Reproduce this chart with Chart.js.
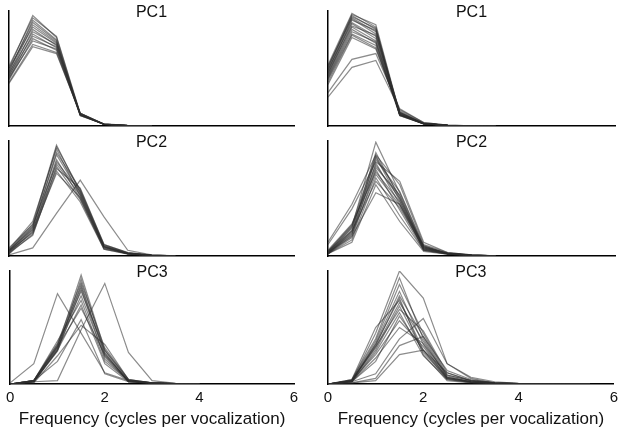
<!DOCTYPE html>
<html>
<head>
<meta charset="utf-8">
<script src="https://cdn.jsdelivr.net/npm/chart.js@4.4.1/dist/chart.umd.min.js"></script>
<style>
    body { margin: 0; background: #fff; }
    #wrap { position: relative; width: 624px; height: 429px; }
    #wrap canvas { position: absolute; }
</style>
</head>
<body>
<div id="wrap">
    <canvas id="c1L" width="312" height="130" style="left:0;top:0"></canvas>
    <canvas id="c1R" width="312" height="130" style="left:312px;top:0"></canvas>
    <canvas id="c2L" width="312" height="130" style="left:0;top:130px"></canvas>
    <canvas id="c2R" width="312" height="130" style="left:312px;top:130px"></canvas>
    <canvas id="c3L" width="312" height="169" style="left:0;top:260px"></canvas>
    <canvas id="c3R" width="312" height="169" style="left:312px;top:260px"></canvas>
</div>
<script>
// x positions of every curve (cycles per vocalization)
const freqs = [0, 0.5, 1, 1.5, 2, 2.5, 3, 3.5, 4, 4.5, 5, 5.5];
const xTicks = [0, 2, 4, 6];
const axisTitle = 'Frequency (cycles per vocalization)';
const panelNames = ['PC1', 'PC2', 'PC3'];

// relative power per curve (1 = top of the axis)
const pc1Left = [
    [0.50, 0.96, 0.77, 0.10, 0.015, 0.004, 0.001],
    [0.52, 0.94, 0.78, 0.11, 0.018, 0.005, 0.001],
    [0.47, 0.92, 0.75, 0.10, 0.014, 0.003, 0],
    [0.48, 0.90, 0.74, 0.09, 0.016, 0.004, 0.001],
    [0.45, 0.88, 0.73, 0.10, 0.015, 0.003, 0],
    [0.50, 0.86, 0.72, 0.11, 0.017, 0.004, 0.001],
    [0.43, 0.84, 0.70, 0.10, 0.013, 0.003, 0],
    [0.46, 0.82, 0.71, 0.09, 0.015, 0.004, 0.001],
    [0.41, 0.80, 0.68, 0.10, 0.016, 0.003, 0],
    [0.44, 0.78, 0.69, 0.11, 0.014, 0.004, 0.001],
    [0.40, 0.76, 0.66, 0.10, 0.015, 0.003, 0],
    [0.42, 0.74, 0.67, 0.09, 0.017, 0.004, 0.001],
    [0.38, 0.71, 0.64, 0.10, 0.014, 0.003, 0],
    [0.37, 0.69, 0.63, 0.11, 0.015, 0.004, 0.001]
];
const pc1Right = [
    [0.53, 0.98, 0.86, 0.10, 0.020, 0.006, 0.002, 0],
    [0.51, 0.97, 0.88, 0.11, 0.020, 0.005, 0.001, 0],
    [0.50, 0.96, 0.84, 0.09, 0.018, 0.006, 0.002, 0],
    [0.48, 0.95, 0.85, 0.10, 0.020, 0.005, 0.001, 0],
    [0.52, 0.94, 0.82, 0.12, 0.022, 0.006, 0.002, 0],
    [0.47, 0.93, 0.80, 0.10, 0.019, 0.005, 0.001, 0],
    [0.45, 0.92, 0.83, 0.09, 0.020, 0.006, 0.002, 0],
    [0.49, 0.90, 0.78, 0.11, 0.021, 0.005, 0.001, 0],
    [0.44, 0.89, 0.76, 0.10, 0.018, 0.004, 0.001, 0],
    [0.46, 0.87, 0.79, 0.12, 0.020, 0.006, 0.002, 0],
    [0.43, 0.86, 0.74, 0.10, 0.022, 0.005, 0.001, 0],
    [0.42, 0.84, 0.72, 0.09, 0.019, 0.005, 0.001, 0],
    [0.41, 0.82, 0.73, 0.11, 0.020, 0.006, 0.002, 0],
    [0.40, 0.80, 0.70, 0.10, 0.021, 0.005, 0.001, 0],
    [0.38, 0.79, 0.68, 0.12, 0.020, 0.004, 0.001, 0],
    [0.36, 0.77, 0.67, 0.13, 0.023, 0.006, 0.002, 0],
    [0.29, 0.58, 0.63, 0.15, 0.030, 0.008, 0.002, 0],
    [0.25, 0.51, 0.57, 0.14, 0.030, 0.007, 0.002, 0]
];
const pc2Left = [
    [0.05, 0.28, 0.965, 0.55, 0.08, 0.020, 0.006, 0.001],
    [0.04, 0.26, 0.95, 0.57, 0.09, 0.025, 0.006, 0.001],
    [0.06, 0.30, 0.93, 0.52, 0.07, 0.020, 0.005, 0.001],
    [0.03, 0.24, 0.90, 0.58, 0.10, 0.030, 0.008, 0.002],
    [0.05, 0.25, 0.88, 0.54, 0.08, 0.020, 0.005, 0.001],
    [0.02, 0.22, 0.84, 0.50, 0.06, 0.020, 0.005, 0.001],
    [0.04, 0.20, 0.82, 0.56, 0.09, 0.025, 0.007, 0.002],
    [0.07, 0.27, 0.80, 0.53, 0.08, 0.020, 0.005, 0.001],
    [0.03, 0.18, 0.78, 0.49, 0.07, 0.018, 0.004, 0.001],
    [0.05, 0.23, 0.76, 0.59, 0.10, 0.030, 0.008, 0.002],
    [0.02, 0.19, 0.74, 0.47, 0.06, 0.015, 0.004, 0.001],
    [0.04, 0.21, 0.72, 0.51, 0.08, 0.020, 0.006, 0.001],
    [0.01, 0.07, 0.37, 0.66, 0.34, 0.050, 0.010, 0.002]
];
const pc2Right = [
    [0.03, 0.25, 0.99, 0.55, 0.08, 0.020, 0.008, 0.002],
    [0.02, 0.22, 0.90, 0.50, 0.06, 0.020, 0.006, 0.001],
    [0.12, 0.45, 0.88, 0.62, 0.10, 0.030, 0.010, 0.002],
    [0.04, 0.27, 0.87, 0.52, 0.07, 0.025, 0.008, 0.002],
    [0.02, 0.20, 0.86, 0.48, 0.05, 0.020, 0.006, 0.001],
    [0.03, 0.24, 0.84, 0.56, 0.09, 0.020, 0.007, 0.001],
    [0.10, 0.41, 0.82, 0.65, 0.12, 0.030, 0.010, 0.002],
    [0.02, 0.18, 0.81, 0.45, 0.06, 0.020, 0.005, 0.001],
    [0.04, 0.26, 0.79, 0.50, 0.08, 0.025, 0.008, 0.002],
    [0.03, 0.21, 0.77, 0.53, 0.07, 0.020, 0.006, 0.001],
    [0.02, 0.16, 0.75, 0.40, 0.05, 0.015, 0.005, 0.001],
    [0.05, 0.28, 0.73, 0.47, 0.08, 0.020, 0.007, 0.001],
    [0.03, 0.19, 0.71, 0.44, 0.06, 0.020, 0.006, 0.001],
    [0.02, 0.14, 0.68, 0.35, 0.05, 0.015, 0.005, 0.001],
    [0.04, 0.22, 0.65, 0.42, 0.07, 0.020, 0.006, 0.001],
    [0.02, 0.12, 0.62, 0.30, 0.04, 0.015, 0.004, 0.001],
    [0.03, 0.17, 0.55, 0.45, 0.09, 0.020, 0.006, 0.001]
];
const pc3Left = [
    [0, 0.03, 0.33, 0.965, 0.30, 0.03, 0.010, 0.003, 0.001],
    [0, 0.02, 0.30, 0.93, 0.28, 0.02, 0.008, 0.002, 0],
    [0, 0.03, 0.36, 0.90, 0.32, 0.04, 0.010, 0.003, 0.001],
    [0, 0.02, 0.31, 0.88, 0.25, 0.03, 0.008, 0.002, 0],
    [0, 0.03, 0.34, 0.86, 0.27, 0.02, 0.010, 0.003, 0.001],
    [0, 0.02, 0.29, 0.84, 0.22, 0.03, 0.008, 0.002, 0],
    [0, 0.03, 0.35, 0.82, 0.30, 0.04, 0.010, 0.003, 0.001],
    [0, 0.02, 0.32, 0.78, 0.24, 0.02, 0.008, 0.002, 0],
    [0, 0.03, 0.38, 0.74, 0.20, 0.03, 0.010, 0.003, 0.001],
    [0, 0.02, 0.30, 0.70, 0.18, 0.02, 0.008, 0.002, 0],
    [0, 0.03, 0.33, 0.67, 0.26, 0.03, 0.010, 0.003, 0.001],
    [0.01, 0.18, 0.80, 0.45, 0.10, 0.03, 0.008, 0.002, 0],
    [0, 0.02, 0.03, 0.48, 0.89, 0.28, 0.030, 0.005, 0.001],
    [0, 0.03, 0.20, 0.57, 0.09, 0.02, 0.005, 0.001, 0],
    [0, 0.01, 0.25, 0.52, 0.35, 0.04, 0.010, 0.002, 0]
];
const pc3Right = [
    [0, 0.03, 0.45, 1.00, 0.76, 0.18, 0.05, 0.010, 0.004, 0.002, 0.001, 0.001],
    [0, 0.04, 0.40, 0.94, 0.40, 0.06, 0.02, 0.006, 0.002, 0.001, 0, 0],
    [0, 0.03, 0.38, 0.88, 0.45, 0.08, 0.03, 0.010, 0.003, 0.001, 0, 0],
    [0, 0.02, 0.36, 0.82, 0.35, 0.05, 0.02, 0.005, 0.002, 0.001, 0, 0],
    [0, 0.03, 0.34, 0.78, 0.42, 0.07, 0.02, 0.006, 0.002, 0.001, 0, 0],
    [0, 0.04, 0.50, 0.74, 0.30, 0.04, 0.015, 0.005, 0.002, 0.001, 0, 0],
    [0, 0.03, 0.32, 0.72, 0.38, 0.06, 0.02, 0.006, 0.002, 0.001, 0, 0],
    [0, 0.02, 0.30, 0.69, 0.28, 0.05, 0.015, 0.005, 0.002, 0.001, 0, 0],
    [0, 0.03, 0.33, 0.66, 0.47, 0.10, 0.03, 0.010, 0.003, 0.001, 0, 0],
    [0, 0.02, 0.28, 0.63, 0.25, 0.04, 0.015, 0.005, 0.002, 0.001, 0, 0],
    [0, 0.03, 0.26, 0.56, 0.33, 0.05, 0.02, 0.006, 0.002, 0.001, 0, 0],
    [0, 0.02, 0.23, 0.50, 0.36, 0.08, 0.03, 0.010, 0.003, 0.001, 0, 0],
    [0, 0.02, 0.09, 0.40, 0.58, 0.18, 0.06, 0.020, 0.005, 0.002, 0.001, 0],
    [0, 0.01, 0.05, 0.34, 0.42, 0.12, 0.04, 0.010, 0.003, 0.001, 0, 0],
    [0, 0.01, 0.03, 0.26, 0.30, 0.10, 0.03, 0.010, 0.003, 0.001, 0, 0],
    [0, 0.02, 0.20, 0.60, 0.30, 0.06, 0.02, 0.005, 0.002, 0.001, 0, 0],
    [0, 0.03, 0.35, 0.76, 0.26, 0.03, 0.01, 0.004, 0.002, 0.001, 0, 0]
];

const FONT = '"Liberation Sans", Arial, Helvetica, sans-serif';

// draws "PC1" etc. just inside the top of the plot area
const panelTitle = {
    id: 'panelTitle',
    afterDraw(chart, args, opts) {
        const { ctx, chartArea } = chart;
        ctx.save();
        ctx.font = '16px ' + FONT;
        ctx.fillStyle = '#111';
        ctx.textAlign = 'center';
        ctx.textBaseline = 'middle';
        ctx.fillText(opts.text, (chartArea.left + chartArea.right) / 2, chartArea.top + 2);
        ctx.restore();
    }
};

function makePanel(id, curves, name, isLeft, isBottom) {
    const datasets = curves.map(vals => ({
        data: vals.map((v, i) => ({ x: freqs[i], y: v })),
        borderColor: 'rgba(45, 45, 45, 0.55)',
        borderWidth: 1.2,
        pointRadius: 0,
        tension: 0,
        fill: false
    }));

    return new Chart(document.getElementById(id), {
        type: 'line',
        data: { datasets: datasets },
        plugins: [panelTitle],
        options: {
            responsive: false,
            animation: false,
            events: [],
            layout: {
                padding: {
                    left: isLeft ? 9 : 16,
                    right: isLeft ? 18 : 9,
                    top: 11,
                    bottom: isBottom ? 0 : 4
                }
            },
            plugins: {
                legend: { display: false },
                tooltip: { enabled: false },
                panelTitle: { text: name }
            },
            scales: {
                x: {
                    type: 'linear',
                    min: 0,
                    max: 6,
                    afterBuildTicks: axis => {
                        axis.ticks = xTicks.map(v => ({ value: v }));
                    },
                    grid: { display: false, drawTicks: false },
                    border: { display: true, color: '#000', width: 1.5 },
                    ticks: {
                        display: isBottom,
                        padding: 6,
                        maxRotation: 0,
                        color: '#111',
                        font: { family: FONT, size: 15, lineHeight: 1 }
                    },
                    title: {
                        display: isBottom,
                        text: axisTitle,
                        color: '#111',
                        padding: { top: 0, bottom: 1 },
                        font: { family: FONT, size: 17, lineHeight: 1 }
                    }
                },
                y: {
                    min: 0,
                    max: 1,
                    grid: { display: false, drawTicks: false },
                    border: { display: true, color: '#000', width: 1.5 },
                    ticks: { display: false }
                }
            }
        }
    });
}

makePanel('c1L', pc1Left, panelNames[0], true, false);
makePanel('c1R', pc1Right, panelNames[0], false, false);
makePanel('c2L', pc2Left, panelNames[1], true, false);
makePanel('c2R', pc2Right, panelNames[1], false, false);
makePanel('c3L', pc3Left, panelNames[2], true, true);
makePanel('c3R', pc3Right, panelNames[2], false, true);
</script>
</body>
</html>
